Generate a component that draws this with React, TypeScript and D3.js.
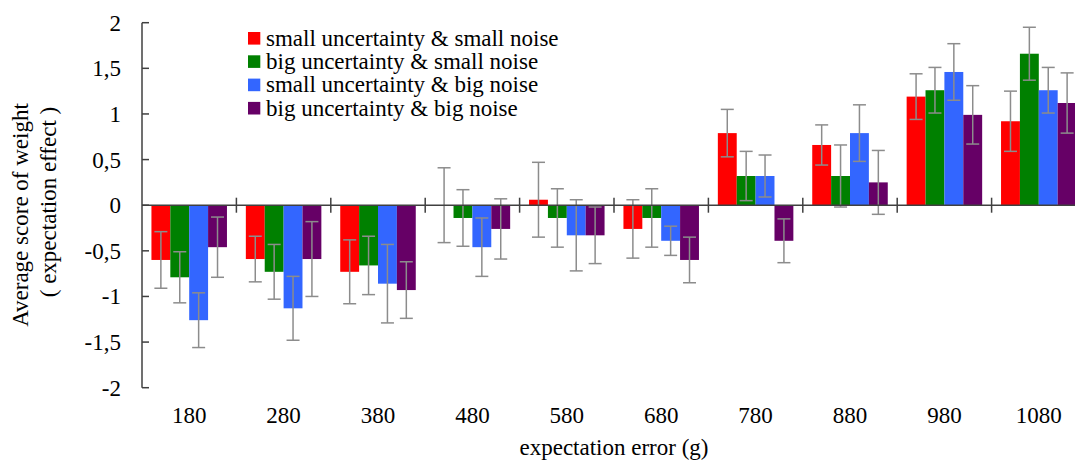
import React from "react";
import * as d3 from "d3";

const categories = ["180", "280", "380", "480", "580", "680", "780", "880", "980", "1080"];
const seriesNames = [
  "small uncertainty & small noise",
  "big uncertainty & small noise",
  "small uncertainty & big noise",
  "big uncertainty & big noise",
];
const seriesColors = ["#ff0000", "#008000", "#3366ff", "#660066"];

// mean values per series (one per category)
const smallUncSmallNoise = [-0.6, -0.59, -0.73, 0, 0.06, -0.26, 0.79, 0.66, 1.19, 0.92];
const bigUncSmallNoise = [-0.79, -0.73, -0.66, -0.14, -0.14, -0.14, 0.32, 0.32, 1.26, 1.66];
const smallUncBigNoise = [-1.26, -1.13, -0.86, -0.46, -0.33, -0.39, 0.32, 0.79, 1.46, 1.26];
const bigUncBigNoise = [-0.46, -0.59, -0.93, -0.26, -0.33, -0.6, -0.39, 0.25, 0.99, 1.12];

// error bar half-lengths
const errSmallUncSmallNoise = [0.31, 0.25, 0.35, 0.41, 0.41, 0.32, 0.26, 0.22, 0.25, 0.33];
const errBigUncSmallNoise = [0.28, 0.3, 0.32, 0.31, 0.32, 0.32, 0.27, 0.34, 0.25, 0.29];
const errSmallUncBigNoise = [0.3, 0.35, 0.43, 0.32, 0.39, 0.16, 0.23, 0.31, 0.31, 0.25];
const errBigUncBigNoise = [0.33, 0.41, 0.31, 0.33, 0.31, 0.25, 0.24, 0.35, 0.32, 0.33];

const yTicks = [-2, -1.5, -1, -0.5, 0, 0.5, 1, 1.5, 2];

const values = [smallUncSmallNoise, bigUncSmallNoise, smallUncBigNoise, bigUncBigNoise];
const errors = [errSmallUncSmallNoise, errBigUncSmallNoise, errSmallUncBigNoise, errBigUncBigNoise];

const W = 1075;
const H = 464;
const left = 142;
const right = 1086;
const font = "Liberation Serif, DejaVu Serif, serif";

export default function App() {
  const x = d3.scaleBand<string>().domain(categories).range([left, right]).paddingInner(0).paddingOuter(0);
  const bw = x.bandwidth();
  const xs = d3
    .scaleBand<number>()
    .domain(d3.range(seriesNames.length))
    .range([bw * 0.1, bw * 0.9])
    .padding(0);
  const y = d3.scaleLinear().domain([-2, 2]).range([387.7, 22.7]);
  const fmt = (v: number) => String(v).replace(".", ",");

  const axisColor = "#404040";
  const errColor = "#8c8c8c";
  const txt = { fontFamily: font };

  return (
    <svg
      width={W}
      height={H}
      style={{ position: "absolute", left: 0, top: 0, background: "#fff", overflow: "hidden", fontFamily: font }}
    >
      <rect width={W} height={H} fill="#fff" />
      {/* bars */}
      {values.map((vals, s) =>
        vals.map((v, i) => {
          const bx = (x(categories[i]) as number) + (xs(s) as number);
          const y0 = y(0);
          const y1 = y(v);
          return (
            <rect
              key={`b${s}-${i}`}
              x={bx}
              y={Math.min(y0, y1)}
              width={xs.bandwidth()}
              height={Math.abs(y1 - y0)}
              fill={seriesColors[s]}
            />
          );
        })
      )}
      {/* error bars */}
      {values.map((vals, s) =>
        vals.map((v, i) => {
          const cx = (x(categories[i]) as number) + (xs(s) as number) + xs.bandwidth() / 2;
          const e = errors[s][i];
          const yt = y(v + e);
          const yb = y(v - e);
          return (
            <g key={`e${s}-${i}`} stroke={errColor} strokeWidth={1.5}>
              <line x1={cx} x2={cx} y1={yt} y2={yb} />
              <line x1={cx - 6.5} x2={cx + 6.5} y1={yt} y2={yt} />
              <line x1={cx - 6.5} x2={cx + 6.5} y1={yb} y2={yb} />
            </g>
          );
        })
      )}
      {/* y axis */}
      <line x1={left} x2={left} y1={y(2)} y2={y(-2)} stroke={axisColor} strokeWidth={1.5} />
      {yTicks.map((t) => (
        <g key={`yt${t}`}>
          <line x1={left} x2={left + 7} y1={y(t)} y2={y(t)} stroke={axisColor} strokeWidth={1.5} />
          <text x={121} y={y(t) + 8} textAnchor="end" fontSize={23} fill="#000" style={txt}>
            {fmt(t)}
          </text>
        </g>
      ))}
      {/* x axis at zero */}
      <line x1={left} x2={right} y1={y(0)} y2={y(0)} stroke={axisColor} strokeWidth={1.5} />
      {categories.slice(1).map((c) => (
        <line
          key={`xt${c}`}
          x1={x(c) as number}
          x2={x(c) as number}
          y1={y(0) - 7.5}
          y2={y(0) + 7.5}
          stroke={axisColor}
          strokeWidth={1.5}
        />
      ))}
      {categories.map((c) => (
        <text
          key={`xl${c}`}
          x={(x(c) as number) + bw / 2}
          y={423}
          textAnchor="middle"
          fontSize={23}
          fill="#000"
          style={txt}
        >
          {c}
        </text>
      ))}
      {/* axis titles */}
      <text x={(left + right) / 2} y={455} textAnchor="middle" fontSize={23} fill="#000" style={txt}>
        expectation error (g)
      </text>
      <text transform="translate(28,215) rotate(-90)" textAnchor="middle" fontSize={23} fill="#000" style={txt}>
        Average score of weight
      </text>
      <text transform="translate(56,202) rotate(-90)" textAnchor="middle" fontSize={23} fill="#000" style={txt}>
        ( expectation effect )
      </text>
      {/* legend */}
      {seriesNames.map((n, s) => (
        <g key={`lg${s}`} transform={`translate(248,${38.3 + s * 23.3})`}>
          <rect x={0} y={-6.3} width={12.3} height={12.6} fill={seriesColors[s]} />
          <text x={18} y={7.5} fontSize={23} fill="#000" style={txt}>
            {n}
          </text>
        </g>
      ))}
    </svg>
  );
}
